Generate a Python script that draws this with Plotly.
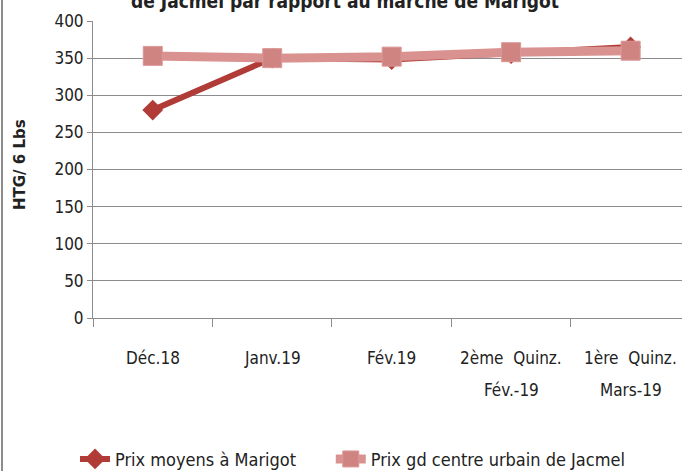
import plotly.graph_objects as go

categories = ["Déc.18", "Janv.19", "Fév.19", "2ème Quinz. Fév.-19", "1ère Quinz. Mars-19"]
label_line1 = ["Déc.18", "Janv.19", "Fév.19", "2ème  Quinz.", "1ère  Quinz."]
label_line2 = ["", "", "", "Fév.-19", "Mars-19"]
marigot = [280, 350, 348, 356, 365]
jacmel = [353, 350, 352, 358, 360]

font_narrow = "DejaVu Sans Condensed, Liberation Sans Narrow, Roboto Condensed, sans-serif"

fig = go.Figure()
fig.add_trace(go.Scatter(
    x=categories, y=marigot, name="Prix moyens à Marigot",
    mode="lines+markers", legend="legend",
    line=dict(color="#B03B37", width=6),
    marker=dict(symbol="diamond", size=16, color="#B03B37"),
))
fig.add_trace(go.Scatter(
    x=categories, y=jacmel, name="Prix gd centre urbain de Jacmel",
    mode="lines+markers", legend="legend2",
    line=dict(color="#D99290", width=9),
    marker=dict(symbol="square", size=19, color="#CF8482",
                line=dict(color="#DA9996", width=1)),
))

L, T, B = 93, 21, 153
pw, ph = 682 - L, 471 - T - B

annotations = [
    dict(text="<b>de Jacmel par rapport au marché de Marigot</b>",
         x=(345 - L) / pw, xref="paper", y=1 + (T - 1) / ph, yref="paper",
         yanchor="middle", showarrow=False,
         font=dict(family="DejaVu Sans Condensed, DejaVu Sans", size=19)),
    dict(text="<b>HTG/ 6 Lbs</b>", x=(20 - L) / pw, xref="paper", xanchor="center",
         y=(318 - 165) / ph, yref="paper", yanchor="middle", showarrow=False,
         textangle=-90, font=dict(family="DejaVu Sans", size=15)),
]
# category labels drawn under the axis (two rows, wide line spacing)
for cat, l1, l2 in zip(categories, label_line1, label_line2):
    annotations.append(dict(text=l1, x=cat, xref="x", y=-(358 - 318) / ph, yref="paper",
                            yanchor="middle", showarrow=False, font=dict(size=17)))
    if l2:
        annotations.append(dict(text=l2, x=cat, xref="x", y=-(390 - 318) / ph, yref="paper",
                                yanchor="middle", showarrow=False, font=dict(size=17)))

legend_style = dict(orientation="h", xanchor="left", xref="container",
                    y=0.025, yanchor="middle", yref="container",
                    font=dict(size=18), bgcolor="rgba(0,0,0,0)")

fig.update_layout(
    width=682, height=471,
    margin=dict(l=L, r=0, t=T, b=B, autoexpand=False),
    paper_bgcolor="white", plot_bgcolor="white",
    font=dict(family=font_narrow, size=16, color="#222"),
    showlegend=True,
    legend=dict(x=0.11, **legend_style),
    legend2=dict(x=0.485, **legend_style),
    annotations=annotations,
)

fig.update_xaxes(
    range=[-0.5, 4.43], showgrid=False, showline=True, linecolor="#8c8c8c", linewidth=1,
    ticks="outside", tickson="boundaries", ticklen=8, tickcolor="#8c8c8c",
    showticklabels=False, zeroline=False, automargin=False,
)
fig.update_yaxes(
    range=[0, 400], dtick=50, showgrid=True, gridcolor="#8c8c8c", gridwidth=1,
    showline=True, linecolor="#8c8c8c", ticks="outside", ticklen=5, tickcolor="#8c8c8c",
    tickfont=dict(size=17), zeroline=False, automargin=False,
)
fig.add_shape(type="line", xref="paper", yref="paper",
              x0=(2 - L) / pw, x1=(2 - L) / pw, y0=-B / ph, y1=1 + T / ph,
              line=dict(color="#8c8c8c", width=2))

fig.write_html("out.html", config={"displayModeBar": False},
               post_script="document.body.style.margin='0';")
